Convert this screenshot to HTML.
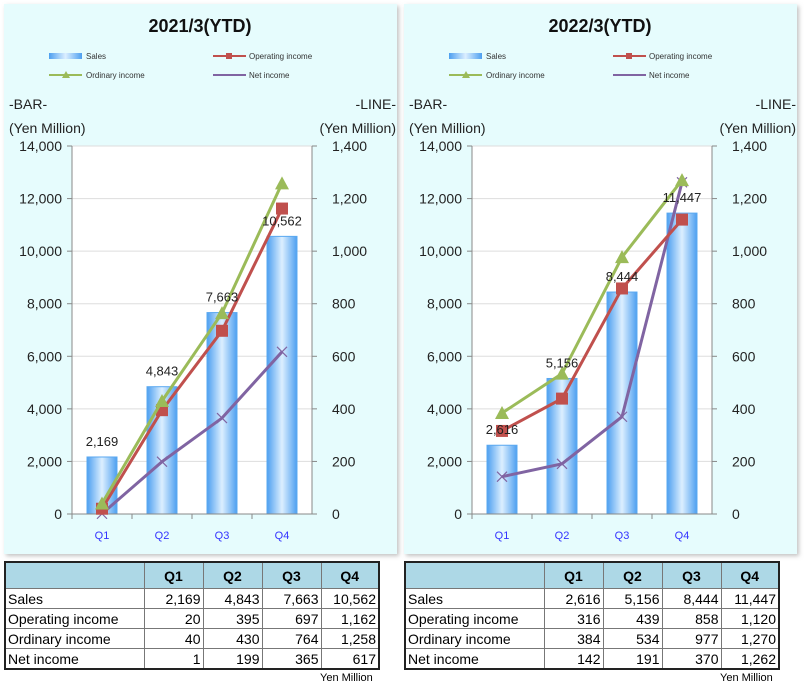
<!DOCTYPE html>
<html><head><meta charset="utf-8"><style>
body{margin:0;background:#fff;width:806px;height:689px;overflow:hidden;font-family:"Liberation Sans",Arial,sans-serif}
svg{position:absolute;left:0;top:0}
table{position:absolute;border-collapse:collapse;font-size:14px;border:2px solid #222;table-layout:fixed}
td{border:1px solid #777;height:19px;padding:0 2px;text-align:right;overflow:hidden;white-space:nowrap}
td:first-child{text-align:left}
tr.h td{background:#add8e6;font-weight:bold;text-align:center;height:25px}
.u{position:absolute;font-size:11px}
</style></head><body>
<svg id="s" width="806" height="689" xmlns="http://www.w3.org/2000/svg">
<defs>
<linearGradient id="bg" x1="0" x2="1" y1="0" y2="0">
<stop offset="0" stop-color="#4d9ff0"/><stop offset="0.5" stop-color="#dcefff"/><stop offset="1" stop-color="#4d9ff0"/></linearGradient>
<filter id="sh"><feDropShadow dx="2" dy="2" stdDeviation="2" flood-color="#999" flood-opacity="0.6"/></filter>
</defs>
</svg>
<table style="left:4px;top:561px;width:376px">
<colgroup><col style="width:139px"><col style="width:59px"><col style="width:59px"><col style="width:59px"><col style="width:58px"></colgroup>
<tr class="h"><td></td><td>Q1</td><td>Q2</td><td>Q3</td><td>Q4</td></tr>
<tr><td>Sales</td><td>2,169</td><td>4,843</td><td>7,663</td><td>10,562</td></tr>
<tr><td>Operating income</td><td>20</td><td>395</td><td>697</td><td>1,162</td></tr>
<tr><td>Ordinary income</td><td>40</td><td>430</td><td>764</td><td>1,258</td></tr>
<tr><td>Net income</td><td>1</td><td>199</td><td>365</td><td>617</td></tr>
</table>
<div class="u" style="left:320px;top:672px">Yen Million</div>
<table style="left:404px;top:561px;width:376px">
<colgroup><col style="width:139px"><col style="width:59px"><col style="width:59px"><col style="width:59px"><col style="width:58px"></colgroup>
<tr class="h"><td></td><td>Q1</td><td>Q2</td><td>Q3</td><td>Q4</td></tr>
<tr><td>Sales</td><td>2,616</td><td>5,156</td><td>8,444</td><td>11,447</td></tr>
<tr><td>Operating income</td><td>316</td><td>439</td><td>858</td><td>1,120</td></tr>
<tr><td>Ordinary income</td><td>384</td><td>534</td><td>977</td><td>1,270</td></tr>
<tr><td>Net income</td><td>142</td><td>191</td><td>370</td><td>1,262</td></tr>
</table>
<div class="u" style="left:720px;top:672px">Yen Million</div>
<script>
var s=document.getElementById('s'),h='';
function panel(ox,title,sales,op,ord,net){
 h+='<rect x="'+(ox+4)+'" y="4" width="393" height="550" fill="#e6fcfd" filter="url(#sh)"/>';
 h+='<text x="'+(ox+200)+'" y="32" font-size="18" font-weight="bold" text-anchor="middle" fill="#111">'+title+'</text>';
 var L=ox+72,R=ox+312;
 h+='<rect x="'+L+'" y="146" width="240" height="368" fill="#fff"/>';
 var t=['0','2,000','4,000','6,000','8,000','10,000','12,000','14,000'],t2=['0','200','400','600','800','1,000','1,200','1,400'];
 for(var i=0;i<8;i++){var y=514-i*52.57;
  if(i>0)h+='<line x1="'+L+'" x2="'+R+'" y1="'+y+'" y2="'+y+'" stroke="#ddd"/>';
  h+='<line x1="'+(L-5)+'" x2="'+L+'" y1="'+y+'" y2="'+y+'" stroke="#888"/><line x1="'+R+'" x2="'+(R+5)+'" y1="'+y+'" y2="'+y+'" stroke="#888"/>';
  h+='<text x="'+(ox+62)+'" y="'+(y+5)+'" font-size="14" text-anchor="end" fill="#222">'+t[i]+'</text>';
  h+='<text x="'+(ox+332)+'" y="'+(y+5)+'" font-size="14" fill="#222">'+t2[i]+'</text>';}
 h+='<text x="'+(ox+9)+'" y="109" font-size="14" fill="#222">-BAR-</text><text x="'+(ox+9)+'" y="133" font-size="14" fill="#222">(Yen Million)</text>';
 h+='<text x="'+(ox+396)+'" y="109" font-size="14" text-anchor="end" fill="#222">-LINE-</text><text x="'+(ox+396)+'" y="133" font-size="14" text-anchor="end" fill="#222">(Yen Million)</text>';
 h+='<rect x="'+(ox+49)+'" y="53" width="33" height="6" fill="url(#bg)"/><text x="'+(ox+86)+'" y="59" font-size="8" fill="#333">Sales</text>';
 h+='<line x1="'+(ox+213)+'" x2="'+(ox+246)+'" y1="56" y2="56" stroke="#c0504d" stroke-width="2"/><rect x="'+(ox+226)+'" y="53" width="6" height="6" fill="#c0504d"/><text x="'+(ox+249)+'" y="59" font-size="8" fill="#333">Operating income</text>';
 h+='<line x1="'+(ox+49)+'" x2="'+(ox+82)+'" y1="75" y2="75" stroke="#9bbb59" stroke-width="2"/><polygon points="'+(ox+62)+',78 '+(ox+66)+',71 '+(ox+70)+',78" fill="#9bbb59"/><text x="'+(ox+86)+'" y="78" font-size="8" fill="#333">Ordinary income</text>';
 h+='<line x1="'+(ox+213)+'" x2="'+(ox+246)+'" y1="75" y2="75" stroke="#8064a2" stroke-width="2"/><text x="'+(ox+249)+'" y="78" font-size="8" fill="#333">Net income</text>';
 var xs=[],lab=['Q1','Q2','Q3','Q4'];
 for(var i=0;i<4;i++){var cx=L+30+i*60;xs.push(cx);var v=sales[i],y=514-v*0.026286;
  h+='<rect x="'+(cx-15)+'" y="'+y+'" width="30" height="'+(514-y)+'" fill="url(#bg)" stroke="#5aa8f0" stroke-width="1"/>';
  h+='<line x1="'+(L+i*60)+'" x2="'+(L+i*60)+'" y1="514" y2="519" stroke="#888"/>';
  h+='<text x="'+cx+'" y="539" font-size="11" text-anchor="middle" fill="#33f">'+lab[i]+'</text>';}
 h+='<line x1="'+L+'" x2="'+L+'" y1="146" y2="514" stroke="#888"/><line x1="'+R+'" x2="'+R+'" y1="146" y2="514" stroke="#888"/><line x1="'+(L-5)+'" x2="'+(R+5)+'" y1="514" y2="514" stroke="#888"/>';
 function pts(a){return a.map(function(v,i){return xs[i]+','+(514-v*0.26286)}).join(' ')}
 function py(v){return 514-v*0.26286}
 h+='<polyline points="'+pts(net)+'" fill="none" stroke="#8064a2" stroke-width="3"/>';
 net.forEach(function(v,i){var x=xs[i],y=py(v);h+='<path d="M'+(x-5)+' '+(y-5)+'L'+(x+5)+' '+(y+5)+'M'+(x+5)+' '+(y-5)+'L'+(x-5)+' '+(y+5)+'" stroke="#8064a2" stroke-width="1.2"/>';});
 h+='<polyline points="'+pts(op)+'" fill="none" stroke="#c0504d" stroke-width="3"/>';
 op.forEach(function(v,i){h+='<rect x="'+(xs[i]-6)+'" y="'+(py(v)-6)+'" width="12" height="12" fill="#c0504d"/>';});
 h+='<polyline points="'+pts(ord)+'" fill="none" stroke="#9bbb59" stroke-width="3"/>';
 ord.forEach(function(v,i){var x=xs[i],y=py(v);h+='<polygon points="'+(x-7)+','+(y+6)+' '+x+','+(y-7)+' '+(x+7)+','+(y+6)+'" fill="#9bbb59"/>';});
 sales.forEach(function(v,i){h+='<text x="'+xs[i]+'" y="'+(514-v*0.026286-11)+'" font-size="13" text-anchor="middle" fill="#222">'+v.toLocaleString('en-US')+'</text>';});
}
panel(0,'2021/3(YTD)',[2169,4843,7663,10562],[20,395,697,1162],[40,430,764,1258],[1,199,365,617]);
panel(400,'2022/3(YTD)',[2616,5156,8444,11447],[316,439,858,1120],[384,534,977,1270],[142,191,370,1262]);
s.innerHTML+=h;
</script>
</body></html>
